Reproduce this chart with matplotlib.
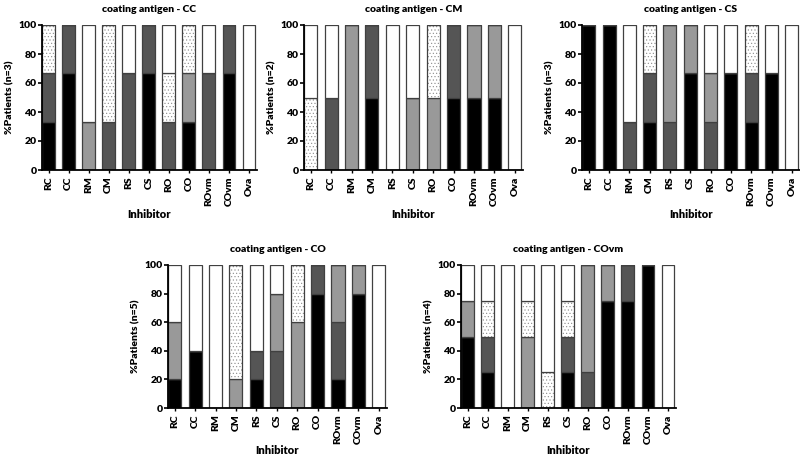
import numpy as np
import matplotlib
matplotlib.use("Agg")
import matplotlib.pyplot as plt

plt.rcParams['font.family'] = ['Lato', 'DejaVu Sans']
plt.rcParams['font.weight'] = 'heavy'
plt.rcParams['axes.titleweight'] = 'heavy'
plt.rcParams['axes.labelweight'] = 'heavy'
plt.rcParams['hatch.linewidth'] = 0.4

inhibitors = ["RC", "CC", "RM", "CM", "RS", "CS", "RO", "CO", "ROvm", "COvm", "Ova"]

# layers from bottom: black, dark gray, light gray, dotted, white  (% patients)
cc_black  = [33.3, 66.7, 0, 0, 0, 66.7, 0, 33.3, 0, 66.7, 0]
cc_dark   = [33.3, 33.3, 0, 33.3, 66.7, 33.3, 33.3, 0, 66.7, 33.3, 0]
cc_light  = [0, 0, 33.3, 0, 0, 0, 0, 33.3, 0, 0, 0]
cc_dot    = [33.3, 0, 0, 66.7, 0, 0, 33.3, 33.3, 0, 0, 0]
cc_white  = [0, 0, 66.7, 0, 33.3, 0, 33.3, 0, 33.3, 0, 100]

cm_black  = [0, 0, 0, 50, 0, 0, 0, 50, 50, 50, 0]
cm_dark   = [0, 50, 0, 50, 0, 0, 0, 50, 0, 0, 0]
cm_light  = [0, 0, 100, 0, 0, 50, 50, 0, 50, 50, 0]
cm_dot    = [50, 0, 0, 0, 0, 0, 50, 0, 0, 0, 0]
cm_white  = [50, 50, 0, 0, 100, 50, 0, 0, 0, 0, 100]

cs_black  = [100, 100, 0, 33.3, 0, 66.7, 0, 66.7, 33.3, 66.7, 0]
cs_dark   = [0, 0, 33.3, 33.3, 33.3, 0, 33.3, 0, 33.3, 0, 0]
cs_light  = [0, 0, 0, 0, 66.7, 33.3, 33.3, 0, 0, 0, 0]
cs_dot    = [0, 0, 0, 33.3, 0, 0, 0, 0, 33.3, 0, 0]
cs_white  = [0, 0, 66.7, 0, 0, 0, 33.3, 33.3, 0, 33.3, 100]

co_black  = [20, 40, 0, 0, 20, 0, 0, 80, 20, 80, 0]
co_dark   = [0, 0, 0, 0, 20, 40, 0, 20, 40, 0, 0]
co_light  = [40, 0, 0, 20, 0, 40, 60, 0, 40, 20, 0]
co_dot    = [0, 0, 0, 80, 0, 0, 40, 0, 0, 0, 0]
co_white  = [40, 60, 100, 0, 60, 20, 0, 0, 0, 0, 100]

cov_black = [50, 25, 0, 0, 0, 25, 0, 75, 75, 100, 0]
cov_dark  = [0, 25, 0, 0, 0, 25, 25, 0, 25, 0, 0]
cov_light = [25, 0, 0, 50, 0, 0, 75, 25, 0, 0, 0]
cov_dot   = [0, 25, 0, 25, 25, 25, 0, 0, 0, 0, 0]
cov_white = [25, 25, 100, 25, 75, 25, 0, 0, 0, 0, 100]

panels = [
    ("CC", 3, [cc_black, cc_dark, cc_light, cc_dot, cc_white], (42, 170, 215, 145)),
    ("CM", 2, [cm_black, cm_dark, cm_light, cm_dot, cm_white], (304, 170, 219, 145)),
    ("CS", 3, [cs_black, cs_dark, cs_light, cs_dot, cs_white], (582, 170, 218, 145)),
    ("CO", 5, [co_black, co_dark, co_light, co_dot, co_white], (168, 408, 219, 143)),
    ("COvm", 4, [cov_black, cov_dark, cov_light, cov_dot, cov_white], (461, 408, 215, 143)),
]

colors = ["#000000", "#555555", "#999999", "white", "white"]
hatches = [None, None, None, ".....", None]

W, H = 800, 457
fig = plt.figure(figsize=(8, 4.57), dpi=100)

x = np.arange(len(inhibitors))
for i, (name, n, layers, (l, b, w, h)) in enumerate(panels):
    ax = fig.add_axes([l / W, (H - b) / H, w / W, h / H])
    bottom = np.zeros(len(inhibitors))
    for vals, c, ht in zip(layers, colors, hatches):
        vals = np.array(vals, dtype=float)
        if ht:
            # dots in light gray, outline drawn separately
            ax.bar(x, vals, width=0.64, bottom=bottom, color=c, edgecolor="#8a8a8a",
                   linewidth=0, hatch=ht)
            ax.bar(x, vals, width=0.64, bottom=bottom, fill=False, edgecolor="#404040",
                   linewidth=0.9)
        else:
            ax.bar(x, vals, width=0.64, bottom=bottom, color=c, edgecolor="#404040",
                   linewidth=0.9)
        bottom += vals
    ax.set_xlim(-0.33, 10.4)
    ax.set_ylim(0, 100)
    ax.set_yticks([0, 20, 40, 60, 80, 100])
    ax.set_xticks(x)
    ax.set_xticklabels(inhibitors, rotation=90, fontsize=7.5)
    ax.tick_params(axis='y', labelsize=7.5, length=3, width=1.2, pad=1)
    ax.tick_params(axis='x', length=2.5, width=1, pad=2)
    for s in ["top", "right"]:
        ax.spines[s].set_visible(False)
    for s in ["left", "bottom"]:
        ax.spines[s].set_linewidth(1.3)
    ax.set_title("coating antigen - " + name, fontsize=7.5, pad=9)
    ax.set_xlabel("Inhibitor", fontsize=8, labelpad=1 if i >= 3 else 2)
    ax.set_ylabel("%Patients (n=" + str(n) + ")", fontsize=7.5, labelpad=3)

fig.savefig("out.png", dpi=100)
